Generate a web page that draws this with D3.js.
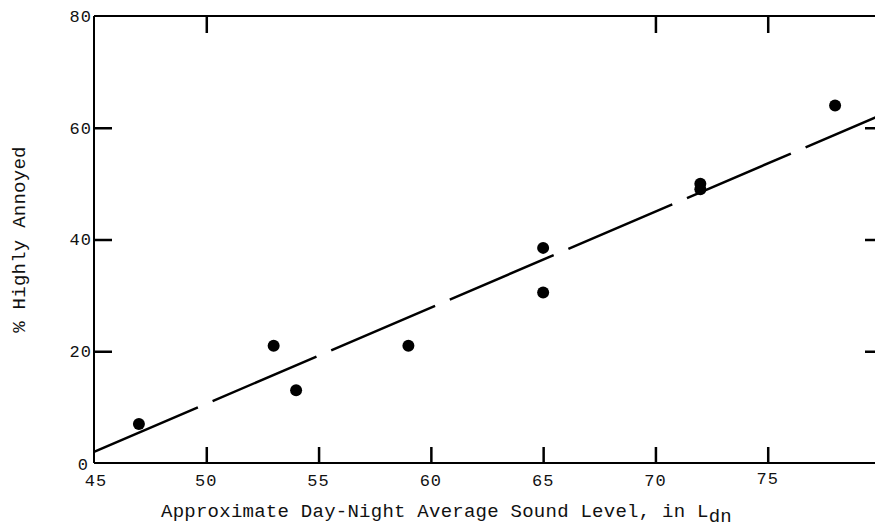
<!DOCTYPE html>
<html lang="en">
<head>
  <meta charset="UTF-8">
  <title>Percent Highly Annoyed vs Day-Night Sound Level</title>
  <style>
      body { margin: 0; background: #fff; overflow: hidden; }
      svg { display: block; }
      .frame { stroke: #000; stroke-width: 2px; fill: none; }
      .tick-label { font-family: "Liberation Mono", monospace; font-size: 17px; letter-spacing: 1px; fill: #111; }
      .title { font-family: "Liberation Mono", monospace; font-size: 19px; letter-spacing: 0.25px; fill: #111; }
      .fit { fill: none; stroke: #000; stroke-width: 2.5px; stroke-dasharray: 113 16; }
  </style>
</head>
<body>
<div id="chart"></div>
<script src="https://d3js.org/d3.v7.min.js"></script>
<script>
  // survey sites: sound level (Ldn) and % highly annoyed
  const ldn = [47, 53, 54, 59, 65, 65, 72, 72, 78];
  const annoyed = [7, 21, 13, 21, 38.5, 30.5, 50, 49, 64];

  // fitted line endpoints
  const fitX = [45, 80];
  const fitY = [2, 62.2];

  const xTicks = [45, 50, 55, 60, 65, 70, 75];
  const yTicks = [0, 20, 40, 60, 80];
  const bottomMarks = [50, 55, 60, 65, 70, 75];
  const topMarks = [50, 70, 75];
  const sideMarks = [20, 40, 60];

  const W = 875, H = 527;

  const svg = d3.select("#chart").append("svg")
    .attr("width", W)
    .attr("height", H);

  const x = d3.scaleLinear().domain([45, 80]).range([94, 880]);
  const y = d3.scaleLinear().domain([0, 80]).range([463, 16]);

  // frame
  svg.append("line").attr("class", "frame")
    .attr("x1", x(45)).attr("x2", x(45)).attr("y1", y(0)).attr("y2", y(80));
  svg.append("line").attr("class", "frame")
    .attr("x1", x(45)).attr("x2", x(80)).attr("y1", y(0)).attr("y2", y(0));
  svg.append("line").attr("class", "frame")
    .attr("x1", x(45)).attr("x2", x(80)).attr("y1", y(80)).attr("y2", y(80));
  svg.append("line").attr("class", "frame")
    .attr("x1", x(80)).attr("x2", x(80)).attr("y1", y(0)).attr("y2", y(80));

  // heavier stretches of the frame, as in the scan
  svg.append("line").attr("class", "frame").attr("stroke-width", 3)
    .attr("x1", x(45)).attr("x2", x(48.4)).attr("y1", y(0)).attr("y2", y(0));
  svg.append("line").attr("class", "frame").attr("stroke-width", 3)
    .attr("x1", x(74.4)).attr("x2", x(80)).attr("y1", y(0)).attr("y2", y(0));
  svg.append("line").attr("class", "frame").attr("stroke-width", 3)
    .attr("x1", x(45)).attr("x2", x(49.8)).attr("y1", y(80)).attr("y2", y(80));

  // inward tick marks
  svg.append("g")
    .attr("transform", `translate(0,${y(0)})`)
    .call(d3.axisBottom(x).tickValues(bottomMarks).tickSize(-16).tickFormat(""))
    .call(g => g.select(".domain").remove())
    .selectAll("line").attr("stroke", "#000").attr("stroke-width", 2.5);

  svg.append("g")
    .attr("transform", `translate(0,${y(80)})`)
    .call(d3.axisTop(x).tickValues(topMarks).tickSize(-17).tickFormat(""))
    .call(g => g.select(".domain").remove())
    .selectAll("line").attr("stroke", "#000").attr("stroke-width", 2.5);

  svg.append("g")
    .attr("transform", `translate(${x(45)},0)`)
    .call(d3.axisLeft(y).tickValues(sideMarks).tickSize(-18).tickFormat(""))
    .call(g => g.select(".domain").remove())
    .selectAll("line").attr("stroke", "#000").attr("stroke-width", 2.5);

  svg.append("g")
    .attr("transform", `translate(${x(80)},0)`)
    .call(d3.axisRight(y).tickValues(sideMarks).tickSize(-15).tickFormat(""))
    .call(g => g.select(".domain").remove())
    .selectAll("line").attr("stroke", "#000").attr("stroke-width", 2.5);

  // tick labels
  svg.append("g")
    .selectAll("text")
    .data(yTicks)
    .enter().append("text")
    .attr("class", "tick-label")
    .attr("x", d => d === 0 ? 89 : 92)
    .attr("y", d => y(d) + (d === 0 ? 1 : 0))
    .attr("dy", "0.35em")
    .attr("text-anchor", "end")
    .text(d => d);

  svg.append("g")
    .selectAll("text")
    .data(xTicks)
    .enter().append("text")
    .attr("class", "tick-label")
    .attr("x", d => x(d) + (d === 45 ? 2 : 0))
    .attr("y", d => d === 75 ? 484 : 486)
    .attr("text-anchor", "middle")
    .text(d => d);

  // fitted line
  const line = d3.line()
    .x((d, i) => x(fitX[i]))
    .y(d => y(d));

  svg.append("path")
    .datum(fitY)
    .attr("class", "fit")
    .attr("d", line);

  // points
  svg.append("g")
    .selectAll("circle")
    .data(annoyed)
    .enter().append("circle")
    .attr("cx", (d, i) => x(ldn[i]))
    .attr("cy", d => y(d))
    .attr("r", 6)
    .attr("fill", "#000");

  // axis titles
  const xt = svg.append("text")
    .attr("class", "title")
    .attr("x", 161)
    .attr("y", 517)
    .text("Approximate Day-Night Average Sound Level, in L");
  xt.append("tspan")
    .attr("dy", 5)
    .text("dn");

  svg.append("text")
    .attr("class", "title")
    .attr("transform", `translate(25,${(y(0) + y(80)) / 2}) rotate(-90)`)
    .attr("text-anchor", "middle")
    .text("% Highly Annoyed");
</script>
</body>
</html>
